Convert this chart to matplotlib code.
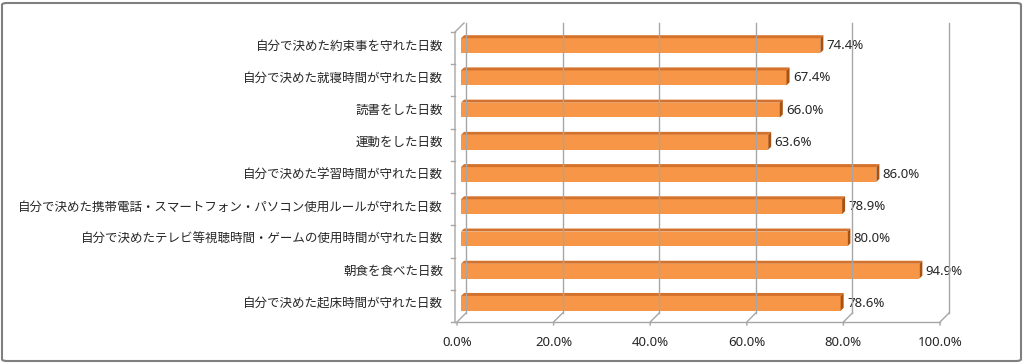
import matplotlib
matplotlib.use("Agg")
import matplotlib.pyplot as plt
import matplotlib.transforms as mtransforms
from matplotlib.patches import Polygon, FancyBboxPatch

# ---------- data (top to bottom) ----------
categories = [
    "自分で決めた約束事を守れた日数",
    "自分で決めた就寝時間が守れた日数",
    "読書をした日数",
    "運動をした日数",
    "自分で決めた学習時間が守れた日数",
    "自分で決めた携帯電話・スマートフォン・パソコン使用ルールが守れた日数",
    "自分で決めたテレビ等視聴時間・ゲームの使用時間が守れた日数",
    "朝食を食べた日数",
    "自分で決めた起床時間が守れた日数",
]
values = [74.4, 67.4, 66.0, 63.6, 86.0, 78.9, 80.0, 94.9, 78.6]
xticks = [0, 20, 40, 60, 80, 100]

plt.rcParams['font.family'] = ['Noto Sans CJK JP', 'DejaVu Sans']

W, H = 1024, 364
fig = plt.figure(figsize=(W / 100, H / 100), dpi=100)

# front plane of the axes in pixel coords
x0, x1 = 457, 940
ytop, ybot = 32, 322
ax = fig.add_axes([x0 / W, (H - ybot) / H, (x1 - x0) / W, (ybot - ytop) / H])
ax.set_xlim(0, 100)
ax.set_ylim(len(categories) - 0.5, -0.5)
ax.axis("off")

DX, DY = 9, 9          # depth of the back wall (pixels)
grid_c = "#A6A6A6"
ypos = list(range(len(categories)))

fig.canvas.draw()
tr = ax.transData
# bars sit half way into the depth
tr_mid = mtransforms.offset_copy(tr, fig=fig, x=4, y=2.5, units='dots')


def line_px(pts, **kw):
    xs = [p[0] for p in pts]
    ys = [p[1] for p in pts]
    fig.add_artist(plt.Line2D(xs, ys, transform=None, **kw))


# back wall gridlines + floor connectors
bx0, by0 = tr.transform((0, len(categories) - 0.5))
_, by1 = tr.transform((0, -0.5))
for t in xticks:
    fx, fy = tr.transform((t, len(categories) - 0.5))
    line_px([(fx + DX, fy + DY), (fx + DX, by1 + DY)], color=grid_c, lw=1.0)
    line_px([(fx, fy - 3), (fx, fy), (fx + DX, fy + DY)], color=grid_c, lw=1.0)
# front bottom edge
line_px([(bx0 - 2, by0), (tr.transform((100, 0))[0], by0)], color=grid_c, lw=1.0)
# left wall
line_px([(bx0 - 2, by0), (bx0 - 2, by1), (bx0 + DX - 2, by1 + DY)], color=grid_c, lw=1.0)
for k in range(len(categories) + 1):
    _, yk = tr.transform((0, k - 0.5))
    line_px([(bx0 - 6, yk), (bx0 - 2, yk)], color=grid_c, lw=1.0)

# bars with a light 3D look
bh = 0.46
bars = ax.barh(ypos, values, height=bh, color="#F79646", edgecolor="none",
               zorder=3, transform=tr_mid)
d = 3
for v, y in zip(values, ypos):
    lx, ly = tr_mid.transform((0, y + bh / 2))
    rx, uy = tr_mid.transform((v, y - bh / 2))
    top = Polygon([(lx, uy), (rx, uy), (rx + d, uy + d), (lx + d, uy + d)],
                  closed=True, transform=None, facecolor="#D4722C", edgecolor="none")
    side = Polygon([(rx, ly), (rx + d, ly + d), (rx + d, uy + d), (rx, uy)],
                   closed=True, transform=None, facecolor="#A9520F", edgecolor="none")
    fig.add_artist(top)
    fig.add_artist(side)
    ax.annotate(f"{v:.1f}%", xy=(v, y), xycoords=tr_mid, xytext=(4.5, 0),
                textcoords="offset points", ha="left", va="center", fontsize=9.5,
                color="#262626", family=['Noto Sans', 'DejaVu Sans'])

# category labels
for lab, y in zip(categories, ypos):
    ax.annotate(lab, xy=(0, y), xytext=(-10, 1.5), textcoords="offset points",
                ha="right", va="center", fontsize=9, color="#262626")

# x tick labels
for t in xticks:
    ax.annotate(f"{t:.1f}%", xy=(t, len(categories) - 0.5), xytext=(0, -15),
                textcoords="offset points", ha="center", va="center",
                fontsize=9.5, color="#262626", family=['Noto Sans', 'DejaVu Sans'])

# outer border
fig.add_artist(FancyBboxPatch((2 / W, 3 / H), (W - 5) / W, (H - 6) / H,
                              boxstyle="round,pad=0,rounding_size=0.005",
                              transform=fig.transFigure, facecolor="none",
                              edgecolor="#7F7F7F", lw=1.5))

fig.savefig("out.png", dpi=100, facecolor="white")
